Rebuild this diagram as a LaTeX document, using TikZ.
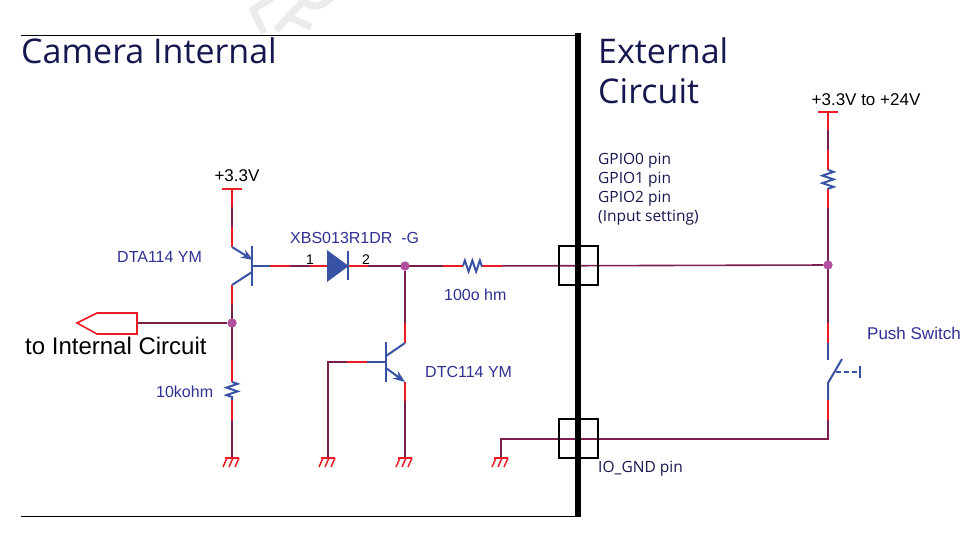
\documentclass[tikz,border=0pt]{standalone}
\usepackage{fontspec}
\setmainfont{Liberation Sans}
\newfontfamily\titlefont{Open Sans}
\usetikzlibrary{calc}
\usetikzlibrary{arrows.meta}
\usetikzlibrary{decorations.pathmorphing}
\definecolor{wireRed}{HTML}{ED1C24}
\definecolor{wireDark}{HTML}{7A1F4E}
\definecolor{partBlue}{HTML}{3953A4}
\definecolor{labelBlue}{HTML}{2E3192}
\definecolor{titleBlue}{HTML}{15174F}
\definecolor{dotPink}{HTML}{B0509E}
\tikzset{
  darkWire/.style={draw=wireDark, line width=1.6pt},
  redWire/.style={draw=wireRed, line width=1.6pt},
  partLine/.style={draw=partBlue, line width=2pt},
  markLine/.style={draw=black!8, line width=7pt},
  resistor/.style={partLine, decorate, decoration={zigzag, amplitude=5.5pt, segment length=7.5pt}},
  junction/.style={circle, fill=dotPink, inner sep=0pt, minimum size=9pt},
  titleText/.style={font=\titlefont\fontsize{34}{39}\selectfont, text=titleBlue, anchor=base west, inner sep=0pt, align=left},
  partText/.style={font=\fontsize{16}{18}\selectfont, text=labelBlue, anchor=base west, inner sep=0pt},
  pinText/.style={font=\titlefont\fontsize{15.5}{19}\selectfont, text=titleBlue, anchor=base west, inner sep=0pt, align=left},
  railText/.style={font=\fontsize{17}{19}\selectfont, text=black, anchor=base, inner sep=0pt},
}

\begin{document}
\begin{tikzpicture}[x=1pt,y=-1pt]
  \useasboundingbox (0,0) rectangle (967,536);
  % faint mark at the top
  \clip (0,0) rectangle (967,536);
  \draw[markLine] (252,8) -- (264,33);
  \draw[markLine] (252,10) -- (272,-2);
  \draw[markLine] (276,30) -- (306,-2);
  \draw[markLine] (285,15) -- (311,27);
  \draw[markLine] (306,3) .. controls (315,9) and (322,6) .. (332,-3);

  % named points
  \foreach \name/\x/\y in {
    frameTL/21/35, frameBL/21/516, busTop/578/33, busBot/578/517, frameTR/578/35, frameBR/578/516,
    railA/232/189, railAa/232/207, railAb/232/227, emitA/232/247, collA/232/285, collAa/232/305,
    resAin/232/360, resAa/232/382, resAb/232/400, resAout/232/420, gndA/232/458,
    baseA/252/266, baseAa/270/266, baseAb/290/266, baseAc/310/266, diodeIn/328/266, diodeOut/348/266,
    wireAa/368/266, wireAb/443/266, resBin/463/266, resBout/482/266, wireAc/502/266,
    collB/405/343, collBa/405/323, emitB/405/382, emitBa/405/401, gndB/405/458,
    baseB/386/362, baseBa/367/362, baseBb/347/362, baseBc/328/362, gndC/328/458,
    gndD/501/458, ioLeft/501/439, ioRight/828/439,
    railB/828/112, railBa/828/130, railBb/828/150, resCin/828/170, resCout/828/189, railBc/828/208,
    swTopa/828/323, swTopb/828/343, swTop/828/360, swBot/828/383, swBota/828/400, swBotb/828/420,
    swBladeEnd/842/359, swPush/836/372, swKnob/860/372,
    portEnd/137/323
  }
  {
    \coordinate (\name) at (\x,\y);
  }
  \node[junction] (dotA) at (232,323) {};
  \node[junction] (dotB) at (405,266) {};
  \node[junction] (dotC) at (828,265) {};

  % frame and pin boxes
  \draw[black, line width=1pt] (frameTL) -- (frameTR);
  \draw[black, line width=1pt] (frameBL) -- (frameBR);

  % dark wires
  \draw[darkWire] (railA) -- (emitA);
  \draw[darkWire] (collA) -- (gndA);
  \draw[darkWire] (portEnd) -- (dotA);
  \draw[darkWire] (baseAa) -- (diodeIn);
  \draw[darkWire] (diodeOut) -- (resBin);
  \draw[darkWire] (resBout) -- (dotC);
  \draw[darkWire] (dotB) -- (collB);
  \draw[darkWire] (emitB) -- (gndB);
  \draw[darkWire] (baseB) -- (baseBc) -- (gndC);
  \draw[darkWire] (gndD) -- (ioLeft) -- (ioRight) -- (swBot);
  \draw[darkWire] (railB) -- (resCin);
  \draw[darkWire] (resCout) -- (swTop);

  % red ends of the wires
  \foreach \a/\b in {railA/railAa, railAb/emitA, collA/collAa, resAin/resAa, resAb/resAout,
    baseAa/baseAb, baseAc/diodeIn, diodeOut/wireAa, wireAb/resBin, resBout/wireAc,
    collBa/collB, emitB/emitBa, baseBa/baseBb,
    railB/railBa, railBb/resCin, resCout/railBc, swTopa/swTopb, swBota/swBotb}
  {
    \draw[redWire] (\a) -- (\b);
  }

  % resistors
  \draw[draw=white, line width=3pt] (resAa) -- (resAb);
  \draw[draw=white, line width=3pt] (resBin) -- (resBout);
  \draw[draw=white, line width=3pt] (resCin) -- (resCout);
  \draw[resistor] (resAa) -- (resAb);
  \draw[resistor] (resBin) -- (resBout);
  \draw[resistor] (resCin) -- (resCout);

  % rails
  \foreach \r in {railA,railB}
  {
    \draw[redWire] ($(\r)+(-10,0)$) -- ($(\r)+(10,0)$);
  }

  % grounds
  \foreach \g in {gndA,gndB,gndC,gndD}
  {
    \draw[draw=wireRed, line width=1.5pt] ($(\g)+(-7,0)$) -- ($(\g)+(7,0)$);
    \foreach \t in {-5,1,7}
    {
      \draw[draw=wireRed, line width=1.5pt] ($(\g)+(\t,0)$) -- ($(\g)+(\t-4,9)$);
    }
  }

  % port
  \draw[redWire, line join=miter, fill=white] (77,323) -- (97,313) -- (137,313) -- (137,334) -- (97,334) -- cycle;

  % transistors
  \draw[partLine] (252,246) -- (252,286);
  \draw[partLine] (baseA) -- (baseAa);
  \draw[partLine, -{Stealth[length=12pt,width=9pt]}] (emitA) -- (253,260);
  \draw[partLine] (252,272) -- (collA);
  \draw[partLine] (386,342) -- (386,382);
  \draw[partLine] (baseB) -- (baseBa);
  \draw[partLine] (386,356) -- (collB);
  \draw[partLine, -{Stealth[length=12pt,width=9pt]}] (386,368) -- (emitB);

  % diode
  \draw[partLine, fill=partBlue, line join=miter] (328,252) -- (347,266) -- (328,280) -- cycle;
  \draw[partLine] (348,251) -- (348,280);

  % switch
  \draw[partLine] (swTopb) -- (swTop);
  \draw[partLine] (swBota) -- (swBot) -- (swBladeEnd);
  \draw[partLine, dash pattern=on 5pt off 3pt] (swPush) -- (swKnob);
  \draw[partLine] (860,366) -- (860,378);

  % pin boxes
  \draw[black, line width=1.5pt] (559,246) rectangle (598,285);
  \draw[black, line width=1.5pt] (559,419) rectangle (598,458);

  % dots again on top of the wires
  \node[junction] at (dotA) {};
  \node[junction] at (dotB) {};
  \node[junction] at (dotC) {};

  % bus
  \draw[black, line width=6.5pt] (busTop) -- (busBot);

  % texts
  \node[titleText] (titleCam) at (21,63) {Camera Internal};
  \node[titleText] (titleExt) at (598,63) {External};
  \node[titleText] (titleCir) at (598,103) {Circuit};
  \node[railText] (railLblA) at (237,181) {+3.3V};
  \node[railText] (railLblB) at (866,105) {+3.3V to +24V};
  \node[partText] (lblDTA) at (117,262) {DTA114 YM};
  \node[partText] (lblDiode) at (290,243) {XBS013R1DR\ \ -G};
  \node[railText, font=\fontsize{14}{16}\selectfont] (pinOne) at (310,264) {1};
  \node[railText, font=\fontsize{14}{16}\selectfont] (pinTwo) at (366,264) {2};
  \node[partText] (lblOhm) at (444,300) {100o hm};
  \node[partText] (lblDTC) at (425,377) {DTC114 YM};
  \node[partText] (lblKohm) at (156,397) {10kohm};
  \node[partText, font=\fontsize{17}{19}\selectfont] (lblPush) at (867,339) {Push Switch};
  \node[pinText] (lblGpio) at (598,221) {GPIO0 pin\\GPIO1 pin\\GPIO2 pin\\(Input setting)};
  \node[pinText] (lblGnd) at (598,472) {IO\_GND pin};
  \node[font=\fontsize{24}{26}\selectfont, text=black, anchor=base west, inner sep=0pt] (lblPort) at (25,354) {to Internal Circuit};
\end{tikzpicture}
\end{document}
